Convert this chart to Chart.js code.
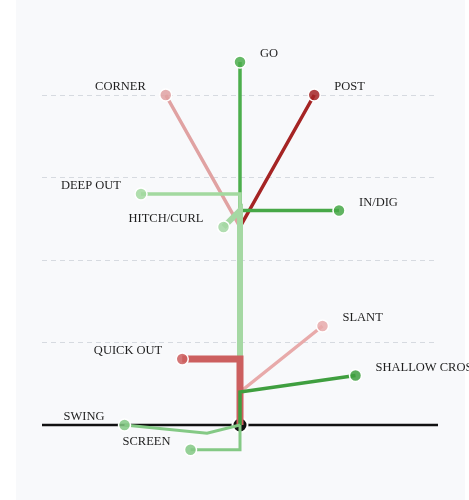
<!DOCTYPE html>
<html>
<head>
<meta charset="utf-8">
<script src="https://cdn.jsdelivr.net/npm/chart.js@4/dist/chart.umd.min.js"></script>
<style>
  html, body { margin: 0; padding: 0; background: #fff; }
  #panel { position: absolute; left: 16px; top: 0; width: 449px; height: 500px; background: #f8f9fb; }
  #chart { position: absolute; left: 0; top: 0; }
</style>
</head>
<body>
<div id="panel"></div>
<canvas id="chart" width="469" height="500"></canvas>
<script>
// route tree, yards: x = across the field, y = downfield from the line
const routeNames = ["GO", "CORNER", "POST", "IN/DIG", "SLANT", "DEEP OUT", "HITCH/CURL", "QUICK OUT", "SHALLOW CROSS", "SWING", "SCREEN"];

const goX = [0, 0];            const goY = [0, 22];
const cornerX = [0, 0, -4.5];  const cornerY = [0, 12, 20];
const postX = [0, 0, 4.5];     const postY = [0, 12, 20];
const digX = [0, 0, 6];        const digY = [0, 13, 13];
const slantX = [0, 0, 5];      const slantY = [0, 2, 6];
const deepOutX = [0, 0, -6];   const deepOutY = [0, 14, 14];
const hitchX = [0, 0, -1];     const hitchY = [0, 13, 12];
const quickOutX = [0, 0, -3.5]; const quickOutY = [0, 4, 4];
const crossX = [0, 0, 7];      const crossY = [0, 2, 3];
const swingX = [0, -2, -7];    const swingY = [0, -0.5, 0];
const screenX = [0, 0, -3];    const screenY = [0, -1.5, -1.5];

const losX = [-12, 12];
const losY = [0, 0];
const yGridLines = [5, 10, 15, 20];

const routeXs = [goX, cornerX, postX, digX, slantX, deepOutX, hitchX, quickOutX, crossX, swingX, screenX];
const routeYs = [goY, cornerY, postY, digY, slantY, deepOutY, hitchY, quickOutY, crossY, swingY, screenY];

// styles
const routeColors = ["#4cae4c", "#e0a2a2", "#a52424", "#47a847", "#e8aaaa", "#a3d9a0", "#a5d8a3", "#cc5f5f", "#3f9f3f", "#84c985", "#84c985"];
const routeWidths = [3.5, 3.5, 3.5, 3.5, 3.5, 3.5, 6, 7, 3.5, 3, 3];

function toPoints(xs, ys) {
  return xs.map((x, i) => ({ x, y: ys[i] }));
}

function fade(hex, a) {
  const n = parseInt(hex.slice(1), 16);
  return `rgba(${(n >> 16) & 255},${(n >> 8) & 255},${n & 255},${a})`;
}

const datasets = [];

datasets.push({
  label: "line",
  data: toPoints(losX, losY),
  showLine: true,
  borderColor: "#111",
  borderWidth: 2.5,
  pointRadius: 0,
  clip: false,
  order: 100,
});

datasets.push({
  label: "ball",
  data: [{ x: 0, y: 0 }],
  pointRadius: 7.5,
  pointBackgroundColor: "#111",
  pointBorderColor: "#fff",
  pointBorderWidth: 2,
  clip: false,
  order: 99,
});

routeNames.forEach((name, i) => {
  const pts = toPoints(routeXs[i], routeYs[i]);
  datasets.push({
    label: name,
    data: pts,
    showLine: true,
    borderColor: routeColors[i],
    borderWidth: routeWidths[i],
    borderJoinStyle: "miter",
    pointRadius: pts.map((p, j) => (j === pts.length - 1 ? 6 : 0)),
    pointBackgroundColor: fade(routeColors[i], 0.85),
    pointBorderColor: "#fff",
    pointBorderWidth: 1.5,
    clip: false,
    order: routeNames.length - i,
  });
});

const routeLabels = {
  id: "routeLabels",
  afterDatasetsDraw(chart) {
    const ctx = chart.ctx;
    ctx.save();
    ctx.font = '12.5px "Liberation Serif", "Times New Roman", serif';
    ctx.fillStyle = "#1e1e1e";
    ctx.textBaseline = "middle";
    routeNames.forEach((name, i) => {
      const meta = chart.getDatasetMeta(i + 2);
      const end = meta.data[meta.data.length - 1];
      const xs = routeXs[i];
      const right = xs[xs.length - 1] >= 0;
      ctx.textAlign = right ? "left" : "right";
      ctx.fillText(name, end.x + (right ? 20 : -20), end.y - 8);
    });
    ctx.restore();
  },
};

new Chart(document.getElementById("chart").getContext("2d"), {
  type: "scatter",
  data: { datasets },
  options: {
    responsive: false,
    animation: false,
    layout: { padding: { left: 42, right: 31, top: 29, bottom: 25.5 } },
    plugins: { legend: { display: false }, tooltip: { enabled: false } },
    scales: {
      x: {
        min: -12,
        max: 12,
        display: false,
      },
      y: {
        min: -3,
        max: 24,
        afterBuildTicks: (scale) => {
          scale.ticks = yGridLines.map((v) => ({ value: v }));
        },
        grid: { color: "#d6dae0", lineWidth: 1, drawTicks: false },
        ticks: { display: false },
        border: { display: false, dash: [5, 4] },
      },
    },
  },
  plugins: [routeLabels],
});
</script>
</body>
</html>
